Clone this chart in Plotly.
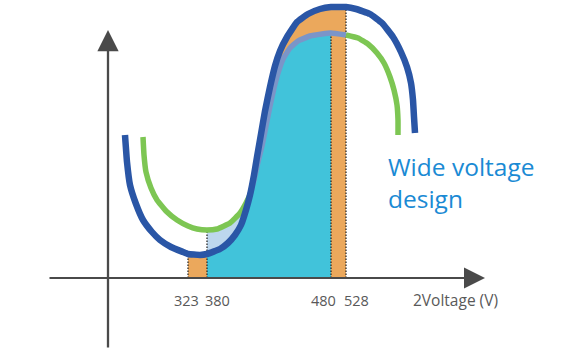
import numpy as np
import plotly.graph_objects as go

# ---- data (diagram units: x along voltage direction, y = height above the horizontal axis)
blue_x = [125, 127, 130, 136, 143, 152, 160, 171, 183, 188, 200, 207, 220, 228, 235, 241, 246, 250,
          254, 257, 261, 265, 270, 275, 280, 287, 297, 308, 320, 331, 343, 346, 356, 370, 382, 393,
          401, 407, 411, 413, 414, 415]
blue_y = [143, 116, 93, 74, 58, 46, 38, 31, 26, 24, 23, 24, 29, 35, 43, 53, 68, 83,
          103, 121, 144, 167, 191, 212, 227, 241, 256, 264, 269, 271, 271, 271, 269, 264, 255, 241,
          226, 211, 195, 178, 161, 145]

green_x = [143, 144, 146, 151, 157, 166, 177, 188, 197, 207, 217, 230, 240, 246, 250,
           254, 258, 262, 266, 270, 274, 278, 283, 290, 298, 310, 322, 331, 346, 358, 368,
           377, 384, 390, 394, 397, 398, 398]
green_y = [141, 123, 106, 90, 78, 67, 58, 52, 49, 48, 49, 55, 65, 75, 83,
           98, 116, 132, 152, 172, 190, 205, 219, 230, 237, 242, 244, 245, 243, 240, 234,
           225, 215, 201, 188, 173, 158, 143]

tick_labels = ["323", "380", "480", "528"]
tick_pos = [186, 217, 323, 356]          # label centres
band_edges = [188, 207, 331, 346]        # x of 323, 380, 480, 528 boundaries
cross_x = 250                            # where the two curves cross
axis_title = "2Voltage (V)"
note = "Wide voltage<br>design"

# colours
BLUE = "#2a56a6"
GREEN = "#7dc653"
PERI = "#7b95c8"
ORANGE = "#eba85c"
CYAN = "#41c3da"
LIGHT = "#bdd7ee"
AXIS = "#4a4a4a"
TXT = "#595959"

bx, by = np.array(blue_x), np.array(blue_y)
gx, gy = np.array(green_x), np.array(green_y)

fig = go.Figure()

def add_fill(x, y, color):
    fig.add_trace(go.Scatter(x=x, y=y, mode="lines", fill="tozeroy", fillcolor=color,
                             line=dict(width=0, color=color), hoverinfo="skip", showlegend=False))

# orange: under blue curve between 323 and 528
m = (bx >= band_edges[0]) & (bx <= band_edges[3])
add_fill(bx[m], by[m], ORANGE)
# light blue: under green between 380 and crossing
m = (gx >= band_edges[1]) & (gx <= cross_x)
add_fill(gx[m], gy[m], LIGHT)
# cyan: under the lower curve between 380 and 480
m1 = (bx >= band_edges[1]) & (bx <= cross_x)
m2 = (gx > cross_x) & (gx <= band_edges[2])
add_fill(np.concatenate([bx[m1], gx[m2]]), np.concatenate([by[m1], gy[m2]]), CYAN)

# dotted boundary lines
tops = [by[list(bx).index(band_edges[0])], gy[list(gx).index(band_edges[1])],
        gy[list(gx).index(band_edges[2])], by[list(bx).index(band_edges[3])]]
for xe, t in zip(band_edges, tops):
    fig.add_trace(go.Scatter(x=[xe, xe], y=[0, t], mode="lines",
                             line=dict(color="#2b2b2b", width=1.3, dash="1.5px,1.5px"),
                             hoverinfo="skip", showlegend=False))

LS = dict(shape="spline", smoothing=0.35)
# green curve (green outside, periwinkle inside the fill)
m = gx <= cross_x
fig.add_trace(go.Scatter(x=gx[m], y=gy[m], mode="lines", line=dict(color=GREEN, width=5.5, **LS),
                         hoverinfo="skip", showlegend=False))
m = (gx >= cross_x) & (gx <= band_edges[3])
fig.add_trace(go.Scatter(x=gx[m], y=gy[m], mode="lines", line=dict(color=PERI, width=5.5, **LS),
                         hoverinfo="skip", showlegend=False))
m = gx >= band_edges[3]
fig.add_trace(go.Scatter(x=gx[m], y=gy[m], mode="lines", line=dict(color=GREEN, width=5.5, **LS),
                         hoverinfo="skip", showlegend=False))
# blue curve
fig.add_trace(go.Scatter(x=bx, y=by, mode="lines", line=dict(color=BLUE, width=6.5, **LS),
                         hoverinfo="skip", showlegend=False))

# axes with arrowheads
fig.add_annotation(x=485, y=0, ax=48, ay=0, xref="x", yref="y", axref="x", ayref="y",
                   text="", showarrow=True, arrowhead=2, arrowwidth=2, arrowsize=2.1,
                   arrowcolor=AXIS, standoff=0)
fig.add_annotation(x=108, y=248, ax=108, ay=-71, xref="x", yref="y", axref="x", ayref="y",
                   text="", showarrow=True, arrowhead=2, arrowwidth=2.3, arrowsize=1.85,
                   arrowcolor=AXIS, standoff=0)

for lab, xp in zip(tick_labels, tick_pos):
    fig.add_annotation(x=xp, y=-22, text=lab, showarrow=False, xanchor="center", yanchor="middle",
                       font=dict(family="Open Sans", size=14.5, color=TXT))
fig.add_annotation(x=455, y=-22, text=axis_title, showarrow=False, xanchor="center", yanchor="middle",
                   font=dict(family="Open Sans", size=15.5, color=TXT))
fig.add_annotation(x=386, y=130, text=note, showarrow=False, xanchor="left", yanchor="top",
                   align="left", font=dict(family="Open Sans", size=24.5, color="#1a8ad4"))

fig.update_layout(width=567, height=357, margin=dict(l=0, r=0, t=0, b=0),
                  plot_bgcolor="white", paper_bgcolor="white",
                  xaxis=dict(range=[0, 567], visible=False, fixedrange=True),
                  yaxis=dict(range=[-79, 278], visible=False, fixedrange=True))
fig.write_html("out.html", config={"displayModeBar": False},
               post_script="document.body.style.margin='0';")
